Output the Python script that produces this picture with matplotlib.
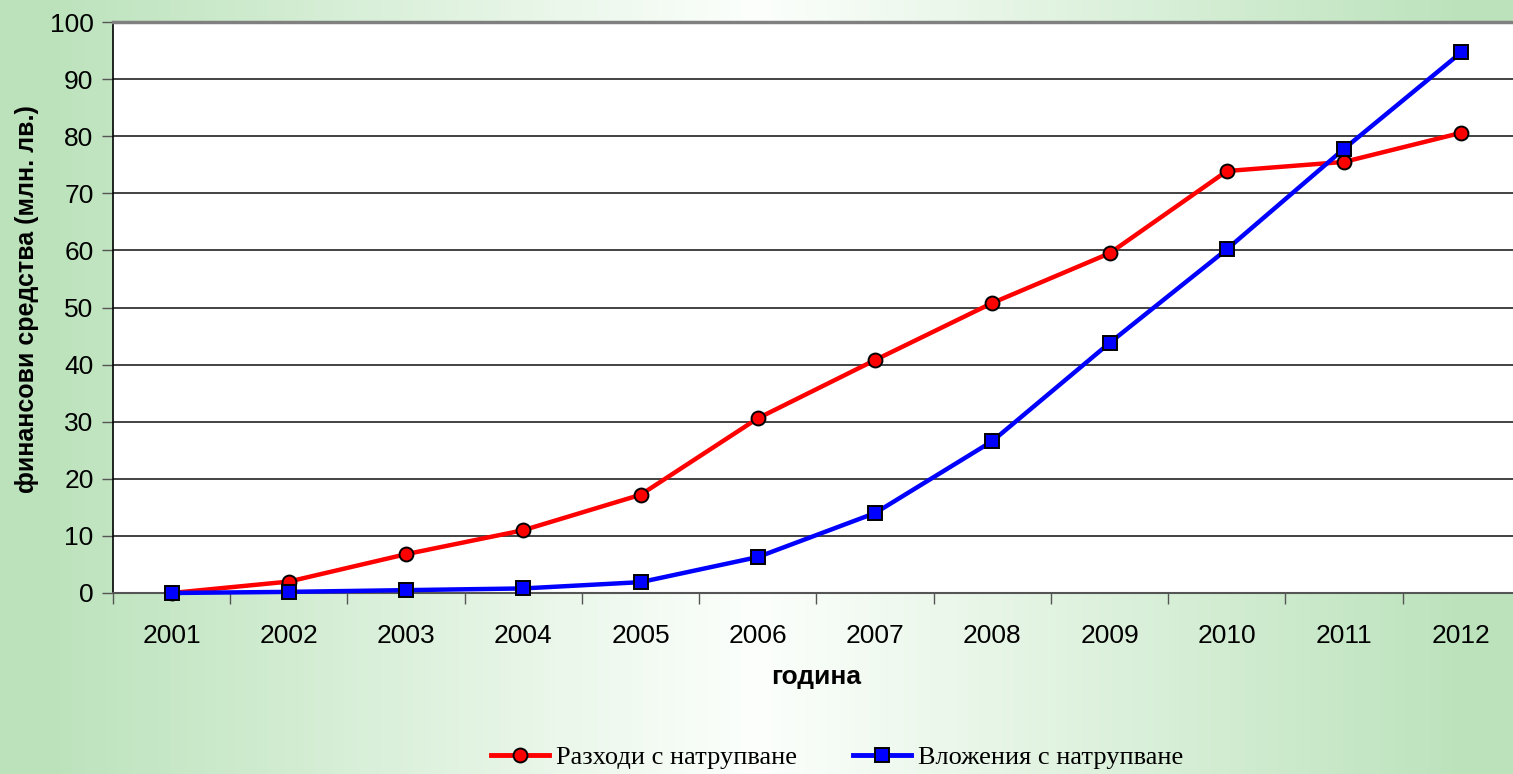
import numpy as np
import matplotlib
matplotlib.use("Agg")
import matplotlib.pyplot as plt
from matplotlib.lines import Line2D

years = ["2001", "2002", "2003", "2004", "2005", "2006",
         "2007", "2008", "2009", "2010", "2011", "2012"]
expenses = [0.0, 2.0, 6.8, 11.0, 17.2, 30.6, 40.8, 50.8, 59.5, 73.9, 75.5, 80.6]
investments = [0.0, 0.2, 0.5, 0.8, 1.9, 6.3, 14.0, 26.6, 43.8, 60.2, 77.8, 94.7]
expenses_label = "Разходи с натрупване"
investments_label = "Вложения с натрупване"

W, H = 1513, 774
fig = plt.figure(figsize=(W / 100, H / 100), dpi=100)

# background gradient
bg = fig.add_axes([0, 0, 1, 1], zorder=-10)
bg.set_axis_off()
green = np.array([0.74, 0.89, 0.74])
white = np.array([0.99, 1.0, 0.99])
xs = np.linspace(-1, 1, 400)
t = np.clip(np.abs(xs) * 1.08, 0, 1)
grad = white[None, :] * (1 - t[:, None]) + green[None, :] * t[:, None]
img = np.tile(grad[None, :, :], (10, 1, 1))
bg.imshow(img, aspect="auto", extent=[0, 1, 0, 1])
bg.set_xlim(0, 1); bg.set_ylim(0, 1)

left = 113 / W
right = 1520 / W
top = 1 - 22 / H
bottom = 1 - 593 / H
ax = fig.add_axes([left, bottom, right - left, top - bottom])
ax.set_facecolor("white")

x = np.arange(len(years))
ax.plot(x, expenses, color="#ff0000", lw=3.2, marker="o", ms=10,
        mfc="#ff0000", mec="black", mew=1.4, zorder=4, clip_on=False)
ax.plot(x, investments, color="#0000ff", lw=3.2, marker="s", ms=9.5,
        mfc="#0000ff", mec="black", mew=1.4, zorder=5, clip_on=False)

ax.set_xlim(-0.5, len(years) - 0.5)
ax.set_ylim(0, 100)
ax.set_yticks(np.arange(0, 101, 10))
ax.yaxis.grid(True, color="#222222", lw=1.2)
ax.set_axisbelow(True)

ax.set_xticks(x)
ax.set_xticklabels(years)
ax.set_xticks(np.arange(-0.5, len(years) - 0.4, 1), minor=True)
ax.tick_params(axis="x", which="major", length=0, pad=22, labelsize=19,
               labelfontfamily="Liberation Sans")
ax.tick_params(axis="x", which="minor", length=8, width=1, color="#555555", direction="out")
ax.tick_params(axis="y", length=8, width=1, color="#555555", pad=6, labelsize=19,
               labelfontfamily="Liberation Sans")

ax.spines["top"].set_color("#808080")
ax.spines["top"].set_linewidth(2.5)
ax.spines["right"].set_visible(False)
ax.spines["left"].set_color("black")
ax.spines["left"].set_linewidth(1.2)
ax.spines["bottom"].set_color("#555555")
ax.spines["bottom"].set_linewidth(1.5)

fig.text((113 + 1520) / 2 / W, 1 - 677 / H, "година", ha="center", va="center",
         fontsize=19, fontweight="bold", family="Liberation Sans")
fig.text(27 / W, 1 - 299 / H, "финансови средства (млн. лв.)", ha="center", va="center",
         rotation=90, fontsize=18, fontweight="bold", family="Liberation Sans")

handles = [
    Line2D([], [], color="#ff0000", lw=3.5, marker="o", ms=10, mfc="#ff0000", mec="black", mew=1.4),
    Line2D([], [], color="#0000ff", lw=3.5, marker="s", ms=10, mfc="#0000ff", mec="black", mew=1.4),
]
fig.legend(handles, [expenses_label, investments_label], loc="center",
           bbox_to_anchor=(837 / W, 1 - 757 / H), ncol=2, frameon=False,
           prop={"family": "Liberation Serif", "size": 19}, handlelength=2.2,
           handletextpad=0.27, columnspacing=2.1)

fig.savefig("out.png", dpi=100)
